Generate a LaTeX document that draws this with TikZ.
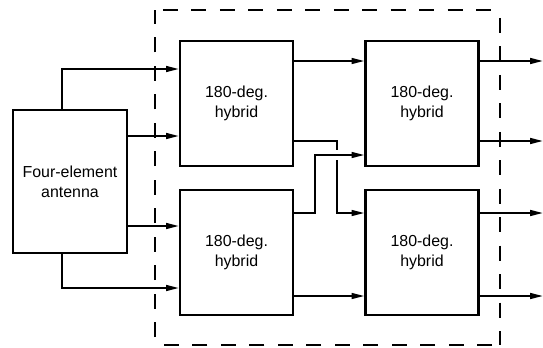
\documentclass[tikz,border=0pt]{standalone}
\usepackage{fontspec}
\setmainfont{Liberation Sans}
\usetikzlibrary{arrows.meta, positioning}

\begin{document}
\begin{tikzpicture}[>={Triangle[length=11pt, width=5pt]}, font=\fontsize{13.6}{17}\selectfont,
  blockbox/.style={draw, line width=1.9pt, rectangle, align=center, inner sep=0pt},
  hybridbox/.style={blockbox, minimum width=3.39cm, minimum height=3.75cm},
  sig/.style={->, line width=1.6pt},
  modline/.style={line width=1.6pt, dash pattern=on 12.8pt off 11.5pt, dash phase=17.5pt}]
  \useasboundingbox (0,0) rectangle (16.29,10.41);

  % module boundary
  \coordinate (modnw) at (4.65,10.11);
  \coordinate (modne) at (15.0,10.11);
  \coordinate (modse) at (15.0,0.06);
  \coordinate (modsw) at (4.65,0.06);
  \foreach \p/\q in {modnw/modne, modne/modse, modse/modsw, modsw/modnw}
    \draw[modline] (\p) -- (\q);

  \node[blockbox, minimum width=3.42cm, minimum height=4.29cm] (ant) at (2.10,4.965) {Four-element\\antenna};
  \node[hybridbox] (hyb1) at (7.095,7.305) {180-deg.\\hybrid};
  \node[hybridbox] (hyb2) at (12.66,7.305) {180-deg.\\hybrid};
  \node[hybridbox] (hyb3) at (7.095,2.835) {180-deg.\\hybrid};
  \node[hybridbox] (hyb4) at (12.66,2.835) {180-deg.\\hybrid};

  % input ports
  \coordinate (h1inA) at ([yshift=1.035cm]hyb1.west);
  \coordinate (h1inB) at ([yshift=-0.975cm]hyb1.west);
  \coordinate (h3inA) at ([yshift=0.795cm]hyb3.west);
  \coordinate (h3inB) at ([yshift=-1.065cm]hyb3.west);
  \coordinate (h2inA) at ([yshift=1.275cm]hyb2.west);
  \coordinate (h2inB) at ([yshift=-1.545cm]hyb2.west);
  \coordinate (h4inA) at ([yshift=1.185cm]hyb4.west);
  \coordinate (h4inB) at ([yshift=-1.305cm]hyb4.west);
  \coordinate (h1outB) at ([yshift=-1.125cm]hyb1.east);
  \coordinate (xing) at ([xshift=-0.825cm]h2inB);
  \coordinate (jog) at ([xshift=-1.485cm]h2inB);

  % antenna to first stage
  \draw[sig] ([xshift=-0.24cm]ant.north) |- (h1inA);
  \draw[sig] (ant.east |- h1inB) -- (h1inB);
  \draw[sig] (ant.east |- h3inA) -- (h3inA);
  \draw[sig] ([xshift=-0.24cm]ant.south) |- (h3inB);

  % first stage to second stage
  \draw[sig] (hyb1.east |- h2inA) -- (h2inA);
  \draw[line width=1.6pt] (h1outB) -| ([yshift=0.15cm]xing);
  \draw[sig] ([yshift=-0.15cm]xing) |- (h4inA);
  \draw[sig] (hyb3.east |- h4inA) -| (jog) -- (h2inB);
  \draw[sig] (hyb3.east |- h4inB) -- (h4inB);

  % outputs
  \path (hyb2.east |- h2inA) ++(1.9,0) coordinate (out1);
  \path (hyb2.east |- h1outB) ++(1.9,0) coordinate (out2);
  \path (hyb4.east |- h4inA) ++(1.9,0) coordinate (out3);
  \path (hyb4.east |- h4inB) ++(1.9,0) coordinate (out4);
  \draw[sig] (hyb2.east |- out1) -- (out1);
  \draw[sig] (hyb2.east |- out2) -- (out2);
  \draw[sig] (hyb4.east |- out3) -- (out3);
  \draw[sig] (hyb4.east |- out4) -- (out4);
\end{tikzpicture}
\end{document}
